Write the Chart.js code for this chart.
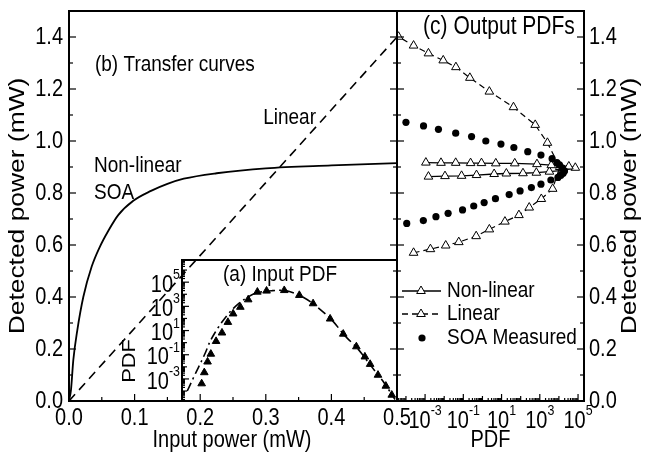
<!DOCTYPE html>
<html><head><meta charset="utf-8">
<script src="https://cdn.jsdelivr.net/npm/chart.js@4/dist/chart.umd.min.js"></script>
<style>
html,body{margin:0;padding:0;background:#fff;}
#wrap{position:relative;width:654px;height:457px;overflow:hidden;background:#fff;}
#wrap canvas{position:absolute;left:0;top:0;}
</style></head><body>
<div id="wrap">
<canvas id="cb" width="654" height="457"></canvas>
<canvas id="ca" width="654" height="457"></canvas>
<canvas id="cc" width="654" height="457"></canvas>
</div>
<script>
// ---------- data ----------
// (b) transfer curves
const soaInput  = [0, 0.003, 0.0066, 0.0127, 0.0218, 0.0346, 0.047, 0.06, 0.075, 0.098, 0.125, 0.15, 0.175, 0.225, 0.30, 0.40, 0.50];
const soaOutput = [0, 0.042, 0.158, 0.273, 0.40, 0.517, 0.593, 0.655, 0.715, 0.770, 0.808, 0.835, 0.855, 0.876, 0.895, 0.906, 0.915];
const linearInput  = [0, 0.5];
const linearOutput = [0, 1.4];
// (a) input PDF
const inPdfPower = [0.202,0.206,0.211,0.216,0.224,0.233,0.242,0.250,0.261,0.273,0.287,0.301,0.328,0.351,0.372,0.398,0.418,0.438,0.451,0.459,0.471,0.483,0.492];
const inPdfValue = [4.1e-4,3.4e-3,2.6e-2,0.115,1.3,6.5,49,245,870,3600,15500,19000,21000,8300,1700,93,5.2,0.47,0.068,0.0166,2.1e-3,2.6e-4,4.7e-5];
const fitPower = [0.180,0.186,0.193,0.202,0.208,0.214,0.222,0.233,0.248,0.265,0.285,0.31,0.33,0.35,0.37,0.40,0.42,0.44,0.46,0.48,0.497];
const fitValue = [1e-4,5e-4,3.2e-3,3.2e-2,0.16,1,6.3,50,500,3200,12600,20000,20000,8900,2000,80,4,0.32,0.0126,5e-4,2e-5];
// (c) output PDFs
const nlPdf   = [1.5e-3,1.1e-2,8.1e-2,0.49,4.1,17.8,132,660,3200,16000,72000,33000,4000,710,49,5.0,0.89,0.24,0.04,6.8e-3,1.1e-3];
const nlPower = [0.863,0.865,0.866,0.869,0.873,0.875,0.876,0.878,0.882,0.887,0.897,0.902,0.907,0.911,0.914,0.914,0.915,0.915,0.916,0.916,0.917];
const linPdf   = [2.5e-4,1.9e-3,1.2e-2,5.8e-2,0.47,2.3,15,81,280,1200,4700,11000,2500,575,42,2.3,0.22,0.041,8.9e-3,1.5e-3,2.5e-4,4.1e-5];
const linPower = [0.570,0.584,0.598,0.611,0.634,0.66,0.69,0.715,0.744,0.777,0.816,0.90,0.993,1.062,1.13,1.19,1.243,1.284,1.310,1.337,1.367,1.401];
const soaPdf   = [1e-4,8.3e-4,5e-3,0.04,0.27,1.5,9.3,44,234,1150,4400,7900,10700,14800,19500,16600,12600,8900,3800,1150,363,93,25,4.8,1.23,0.35,0.091,0.016,3.7e-3,8.1e-4,1.1e-4];
const soaPower = [1.072,1.058,1.045,1.03,1.017,1.0,0.988,0.975,0.959,0.946,0.932,0.917,0.908,0.897,0.885,0.876,0.868,0.86,0.85,0.834,0.821,0.808,0.794,0.778,0.763,0.75,0.735,0.722,0.709,0.694,0.683];
// tick labels
const powerTickLabels = ['0.0','0.2','0.4','0.6','0.8','1.0','1.2','1.4'];
const inputTickLabels = ['0.0','0.1','0.2','0.3','0.4','0.5'];
const pdfTickExps   = [-3,-1,1,3,5];
const pdfTickLabels = ['10^-3','10^-1','10^1','10^3','10^5'];

// ---------- helpers ----------
const FAM = "'Liberation Sans', Arial, sans-serif";
const SY = 1.2;        // vertical stretch of the original artwork's lettering
const TS = 20;         // tick label size
const pts = (xs, ys) => xs.map((x, i) => ({x, y: ys[i]}));
const near = (a, b) => Math.abs(a - b) < 1e-9;
function linTicks(labels) {
  const m = labels.map(parseFloat); const out = [];
  m.forEach((v, i) => { out.push(v); if (i < m.length - 1) out.push((v + m[i + 1]) / 2); });
  return out;
}
function linLen(labels) {
  const m = labels.map(parseFloat);
  return v => m.some(x => near(x, v)) ? 7 : 4;
}
function logTicks(min, max) {
  const out = [];
  for (let e = Math.floor(Math.log10(min)); e <= Math.ceil(Math.log10(max)); e++)
    for (let k = 1; k <= 9; k++) { const v = k * Math.pow(10, e); if (v >= min && v <= max) out.push(v); }
  return out;
}
function logExp(v) { const e = Math.log10(v); const r = Math.round(e); return Math.abs(e - r) < 1e-6 ? r : null; }
const logLen = v => { const r = logExp(v); if (r === null) return 3; return pdfTickExps.includes(r) ? 7 : 5; };

// text drawn with the original's slightly tall lettering
function stxt(ctx, s, x, y, size, align, sx, sy) {
  ctx.save(); ctx.translate(x, y); ctx.scale(sx || 1, sy || SY);
  ctx.font = size + 'px ' + FAM; ctx.textAlign = align || 'left'; ctx.textBaseline = 'middle';
  ctx.fillStyle = '#000'; ctx.fillText(s, 0, 0); ctx.restore();
}
function vtxt(ctx, s, x, y, size, stretch) {   // reads bottom-to-top
  ctx.save(); ctx.translate(x, y); ctx.rotate(-Math.PI / 2);
  stxt(ctx, s, 0, 0, size, 'center', stretch, 1); ctx.restore();
}
function linLabels(ctx, sc, labels, side, a, pad) {
  labels.forEach(l => {
    const p = sc.getPixelForValue(parseFloat(l));
    if (side === 'left')   stxt(ctx, l, a.left - pad, p, TS, 'right');
    if (side === 'right')  stxt(ctx, l, a.right + pad, p, TS, 'left');
    if (side === 'bottom') stxt(ctx, l, p, a.bottom + pad, TS, 'center');
  });
}
function logLabels(ctx, sc, side, a, pad, dy) {
  pdfTickExps.forEach((e, i) => {
    const p = sc.getPixelForValue(Math.pow(10, e));
    const parts = pdfTickLabels[i].split('^');
    const es = TS * 0.62;
    ctx.font = TS + 'px ' + FAM; const wb = ctx.measureText(parts[0]).width;
    ctx.font = es + 'px ' + FAM; const we = ctx.measureText(parts[1]).width;
    let x0, y;
    if (side === 'bottom') { x0 = p - (wb + we) / 2; y = a.bottom + pad; }
    else { x0 = a.left - pad - wb - we; y = p + dy; }
    stxt(ctx, parts[0], x0, y, TS, 'left');
    stxt(ctx, parts[1], x0 + wb, y - TS * 0.42 * SY, es, 'left');
  });
}

function framePlugin(name, tickSpecs, extra) {
  return { id: 'frame' + name, afterDraw(chart) {
    const ctx = chart.ctx, a = chart.chartArea;
    ctx.save();
    ctx.strokeStyle = '#000'; ctx.fillStyle = '#000'; ctx.lineWidth = 1.2; ctx.setLineDash([]);
    tickSpecs.forEach(t => {
      const sc = chart.scales[t.scale];
      sc.ticks.forEach(tk => {
        const p = sc.getPixelForValue(tk.value);
        const len = t.len(tk.value);
        t.sides.forEach(side => {
          ctx.beginPath();
          if (side === 'left')   { ctx.moveTo(a.left, p);  ctx.lineTo(a.left + len, p); }
          if (side === 'right')  { ctx.moveTo(a.right, p); ctx.lineTo(a.right - len, p); }
          if (side === 'bottom') { ctx.moveTo(p, a.bottom); ctx.lineTo(p, a.bottom - len); }
          ctx.stroke();
        });
      });
    });
    ctx.lineWidth = 2;
    ctx.strokeRect(a.left, a.top, a.right - a.left, a.bottom - a.top);
    if (extra) extra(chart, ctx, a);
    ctx.restore();
  }};
}
const base = {responsive: false, animation: false, devicePixelRatio: 1,
  plugins: {legend: {display: false}, tooltip: {enabled: false}}};
const hidden = {grid: {display: false, drawTicks: false}, border: {display: false}, ticks: {display: false}};
const fitW = w => s => { s.width = w; s.paddingTop = s.paddingBottom = 0; };
const fitH = h => s => { s.height = h; s.paddingLeft = s.paddingRight = 0; };

// ---------- (b) transfer curves ----------
new Chart(document.getElementById('cb'), {
  type: 'scatter',
  data: {datasets: [
    {label: 'Non-linear SOA', data: pts(soaInput, soaOutput), showLine: true, borderColor: '#000', borderWidth: 1.8, pointRadius: 0, cubicInterpolationMode: 'monotone'},
    {label: 'Linear', data: pts(linearInput, linearOutput), showLine: true, borderColor: '#000', borderWidth: 1.6, borderDash: [9, 6], pointRadius: 0}
  ]},
  options: Object.assign({}, base, {
    layout: {padding: {left: 0, top: 11, right: 654 - 397, bottom: 0}},
    scales: {
      x: Object.assign({type: 'linear', min: 0, max: 0.5, position: 'bottom',
        afterBuildTicks: s => { s.ticks = linTicks(inputTickLabels).map(v => ({value: v})); },
        afterFit: fitH(56)}, hidden),
      y: Object.assign({type: 'linear', min: 0, max: 1.5, position: 'left',
        afterBuildTicks: s => { s.ticks = linTicks(powerTickLabels).map(v => ({value: v})); },
        afterFit: fitW(69)}, hidden)
    }
  }),
  plugins: [framePlugin('b', [
    {scale: 'x', sides: ['bottom'], len: linLen(inputTickLabels)},
    {scale: 'y', sides: ['left', 'right'], len: linLen(powerTickLabels)}
  ], (chart, ctx, a) => {
    const x = chart.scales.x, y = chart.scales.y;
    linLabels(ctx, x, inputTickLabels, 'bottom', a, 17);
    linLabels(ctx, y, powerTickLabels, 'left', a, 6);
    stxt(ctx, 'Input power (mW)', (a.left + a.right) / 2 - 1, 440, 20, 'center');
    vtxt(ctx, 'Detected power (mW)', 18, (a.top + a.bottom) / 2, 22, 1.2);
    stxt(ctx, '(b) Transfer curves', x.getPixelForValue(0.0396), y.getPixelForValue(1.292), 19);
    stxt(ctx, 'Linear', x.getPixelForValue(0.296), y.getPixelForValue(1.088), 19);
    stxt(ctx, 'Non-linear', x.getPixelForValue(0.0381), y.getPixelForValue(0.904), 19);
    stxt(ctx, 'SOA', x.getPixelForValue(0.0381), y.getPixelForValue(0.800), 19);
  })]
});

// ---------- (a) input PDF inset ----------
new Chart(document.getElementById('ca'), {
  type: 'scatter',
  data: {datasets: [
    {label: 'Input PDF', data: pts(inPdfPower, inPdfValue), showLine: false, pointStyle: 'triangle', pointRadius: 4.4, backgroundColor: '#000', borderColor: '#000', borderWidth: 1},
    {label: 'Fit', data: pts(fitPower, fitValue), showLine: true, borderColor: '#000', borderWidth: 1.6, borderDash: [9, 4, 2, 4], pointRadius: 0, tension: 0.3}
  ]},
  options: Object.assign({}, base, {
    layout: {padding: {left: 182 - 50, top: 260, right: 654 - 397, bottom: 56}},
    scales: {
      x: {type: 'linear', min: 0.172, max: 0.5, display: false},
      y: Object.assign({type: 'logarithmic', min: 1.5e-5, max: 6.8e6, position: 'left',
        afterBuildTicks: s => { s.ticks = logTicks(s.min, s.max).map(v => ({value: v})); },
        afterFit: fitW(50)}, hidden)
    }
  }),
  plugins: [framePlugin('a', [
    {scale: 'y', sides: ['left'], len: logLen}
  ], (chart, ctx, a) => {
    logLabels(ctx, chart.scales.y, 'left', a, 2, 3);
    stxt(ctx, '(a) Input PDF', a.left + 41, a.top + 15, 19);
    vtxt(ctx, 'PDF', a.left - 52, a.top + 101, 19, 1.15);
  })]
});

// ---------- (c) output PDFs ----------
new Chart(document.getElementById('cc'), {
  type: 'scatter',
  data: {datasets: [
    {label: 'SOA Measured', data: pts(soaPdf, soaPower), showLine: false, pointStyle: 'circle', pointRadius: 3.6, backgroundColor: '#000', borderColor: '#000', borderWidth: 0},
    {label: 'Non-linear', data: pts(nlPdf, nlPower), showLine: true, borderColor: '#000', borderWidth: 1.3, pointStyle: 'triangle', pointRadius: 5, pointBackgroundColor: '#fff', pointBorderColor: '#000', pointBorderWidth: 1},
    {label: 'Linear', data: pts(linPdf, linPower), showLine: true, borderColor: '#000', borderWidth: 1.2, borderDash: [6, 4], pointStyle: 'triangle', pointRadius: 5, pointBackgroundColor: '#fff', pointBorderColor: '#000', pointBorderWidth: 1}
  ]},
  options: Object.assign({}, base, {
    layout: {padding: {left: 397, top: 11, right: 0, bottom: 0}},
    scales: {
      x: Object.assign({type: 'logarithmic', min: 3.4e-5, max: 2.05e5, position: 'bottom',
        afterBuildTicks: s => { s.ticks = logTicks(s.min, s.max).map(v => ({value: v})); },
        afterFit: fitH(56)}, hidden),
      y: Object.assign({type: 'linear', min: 0, max: 1.5, position: 'right',
        afterBuildTicks: s => { s.ticks = linTicks(powerTickLabels).map(v => ({value: v})); },
        afterFit: fitW(654 - 584)}, hidden)
    }
  }),
  plugins: [framePlugin('c', [
    {scale: 'x', sides: ['bottom'], len: logLen},
    {scale: 'y', sides: ['left', 'right'], len: linLen(powerTickLabels)}
  ], (chart, ctx, a) => {
    const x = chart.scales.x, y = chart.scales.y;
    logLabels(ctx, x, 'bottom', a, 20, 0);
    linLabels(ctx, y, powerTickLabels, 'right', a, 5);
    stxt(ctx, 'PDF', (a.left + a.right) / 2, 440, 20, 'center');
    vtxt(ctx, 'Detected power (mW)', 630, (a.top + a.bottom) / 2, 22, 1.2);
    stxt(ctx, '(c) Output PDFs', x.getPixelForValue(7.9e-4), y.getPixelForValue(1.438), 21);
    // legend
    const lx = a.left + 5, rows = [a.top + 280, a.top + 303, a.top + 327];
    const H = Chart.helpers;
    ctx.lineWidth = 1.3; ctx.strokeStyle = '#000';
    ctx.beginPath(); ctx.moveTo(lx, rows[0]); ctx.lineTo(lx + 39, rows[0]); ctx.stroke();
    ctx.setLineDash([6, 4]);
    ctx.beginPath(); ctx.moveTo(lx, rows[1]); ctx.lineTo(lx + 39, rows[1]); ctx.stroke();
    ctx.setLineDash([]);
    ctx.fillStyle = '#fff'; ctx.lineWidth = 1;
    H.drawPoint(ctx, {pointStyle: 'triangle', radius: 5, borderWidth: 1}, lx + 19, rows[0]);
    ctx.fillStyle = '#fff';
    H.drawPoint(ctx, {pointStyle: 'triangle', radius: 5, borderWidth: 1}, lx + 19, rows[1]);
    ctx.fillStyle = '#000';
    H.drawPoint(ctx, {pointStyle: 'circle', radius: 3.6, borderWidth: 0}, lx + 20, rows[2]);
    stxt(ctx, 'Non-linear', lx + 45, rows[0], 19);
    stxt(ctx, 'Linear', lx + 45, rows[1], 19);
    stxt(ctx, 'SOA Measured', lx + 45, rows[2], 19);
  })]
});
</script>
</body></html>
